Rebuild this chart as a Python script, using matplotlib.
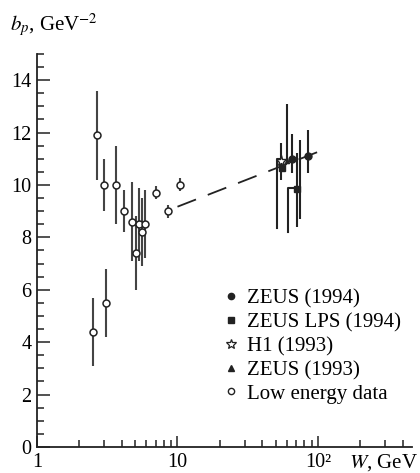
import matplotlib.pyplot as plt
import numpy as np
from matplotlib.lines import Line2D

plt.rcParams['font.family'] = ['Liberation Serif', 'DejaVu Serif']
plt.rcParams['mathtext.fontset'] = 'stix'

# low energy data (open circles)
low_W = [2.49, 2.67, 2.98, 3.11, 3.63, 4.14, 4.77, 5.07, 5.32, 5.62, 5.9, 7.0, 8.5, 10.5]
low_b = [4.4, 11.9, 10.0, 5.5, 10.0, 9.0, 8.6, 7.4, 8.5, 8.2, 8.5, 9.7, 9.0, 10.0]
low_err = [1.3, 1.7, 1.0, 1.3, 1.5, 0.8, 1.5, 1.4, 1.4, 1.3, 1.3, 0.25, 0.25, 0.25]

# ZEUS 1994 (filled circles)
zeus94_W = [65.6, 85.3]
zeus94_b = [10.98, 11.1]
zeus94_up = [0.97, 1.0]
zeus94_dn = [0.53, 0.63]

# ZEUS LPS 1994 (filled squares)
lps_W = [55.5, 70.5]
lps_b = [10.66, 9.83]
lps_up = [0.0, 1.37]
lps_dn = [0.0, 1.43]
# systematic bars drawn beside the points
lps_sys_W = [50.8, 60.9]
lps_sys_top = [10.98, 9.9]
lps_sys_bot = [8.35, 8.2]

# H1 1993 (star)
h1_W = [54.5]
h1_b = [10.9]
h1_up = [0.7]
h1_dn = [0.7]

# ZEUS 1993 (triangle)
zeus93_W = [60.0]
zeus93_b = [10.9]
zeus93_up = [2.2]
zeus93_dn = [0.0]

# extra bar
extra_W = [75.0]
extra_top = [11.7]
extra_bot = [8.7]

# fit line
fit_W = [10, 101]
fit_b = [9.17, 11.27]

fig = plt.figure(figsize=(4.2, 4.73), dpi=100)
ax = fig.add_axes([0.088, 0.055, 0.894, 0.831])
c = '#222222'

ax.plot(fit_W, fit_b, color=c, lw=1.3, dashes=(11, 7))

ax.errorbar(low_W, low_b, yerr=low_err, fmt='o', mfc='white', mec=c, ms=5, mew=1.1,
            ecolor='#444444', elinewidth=1.5, capsize=0, zorder=3)
ax.errorbar(zeus93_W, zeus93_b, yerr=[zeus93_dn, zeus93_up], fmt='^', color=c, ms=3,
            elinewidth=1.5, capsize=0, zorder=2)
ax.errorbar(lps_W, lps_b, yerr=[lps_dn, lps_up], fmt='s', color=c, ms=5,
            elinewidth=1.5, capsize=0, zorder=3)
for w, t, b, pw in zip(lps_sys_W, lps_sys_top, lps_sys_bot, lps_W):
    ax.plot([w, w, pw * 0.98], [b, t, t], color=c, lw=1.5)
ax.vlines(extra_W, extra_bot, extra_top, color=c, lw=1.5)
ax.errorbar(zeus94_W, zeus94_b, yerr=[zeus94_dn, zeus94_up], fmt='o', color=c, ms=5,
            elinewidth=1.5, capsize=0, zorder=4)
ax.errorbar(h1_W, h1_b, yerr=[h1_dn, h1_up], fmt='*', mfc='white', mec=c, ms=8, mew=1,
            ecolor=c, elinewidth=1.5, capsize=0, zorder=5)

# legend
handles = [
    Line2D([], [], ls='none', marker='o', color=c, ms=4.5),
    Line2D([], [], ls='none', marker='s', color=c, ms=4.5),
    Line2D([], [], ls='none', marker='*', mfc='white', mec=c, ms=7, mew=0.9),
    Line2D([], [], ls='none', marker='^', color=c, ms=4.5),
    Line2D([], [], ls='none', marker='o', mfc='white', mec=c, ms=4.5, mew=1),
]
labels = ['ZEUS (1994)', 'ZEUS LPS (1994)', 'H1 (1993)', 'ZEUS (1993)', 'Low energy data']
ax.legend(handles, labels, loc='lower left', bbox_to_anchor=(0.5, 0.11), frameon=False,
          fontsize=15, handlelength=0.6, handletextpad=0.45, labelspacing=0.2,
          borderpad=0, borderaxespad=0)

ax.set_xscale('log')
ax.set_xlim(1, 470)
ax.set_ylim(0, 15)
ax.set_xticks([1, 10, 100])
ax.set_xticklabels(['1', '10', '10²'])
ax.set_yticks(range(0, 15, 2))
ax.set_yticks(np.arange(0, 15.01, 0.5), minor=True)
ax.tick_params(which='both', direction='in', labelsize=14.5, color=c, width=1.1)
ax.tick_params(axis='y', which='major', length=9, pad=4)
ax.tick_params(axis='y', which='minor', length=5)
ax.tick_params(axis='x', which='major', length=8, pad=4)
ax.tick_params(axis='x', which='minor', length=5)
ax.spines['top'].set_visible(False)
ax.spines['right'].set_visible(False)
for s in ['left', 'bottom']:
    ax.spines[s].set_color(c)
    ax.spines[s].set_linewidth(1.3)

fig.text(0.025, 0.935, r'$b_p$, GeV$^{-2}$', fontsize=15)
fig.text(0.83, 0.012, r'$W$, GeV', fontsize=15)

fig.savefig('out.png', dpi=100)
